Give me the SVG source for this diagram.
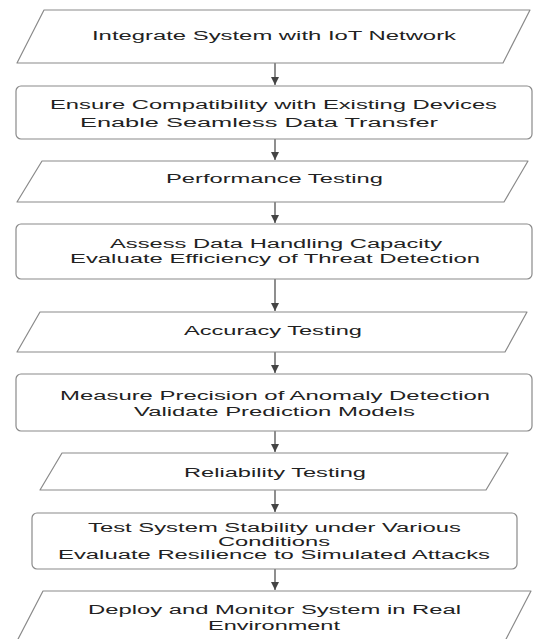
<svg xmlns="http://www.w3.org/2000/svg" width="534" height="639" viewBox="0 0 534 639">
<style>
.n{fill:#fff;stroke:#8a8a8a;stroke-width:1.2;stroke-linejoin:round}
.t{font-family:"Liberation Sans",Arial,sans-serif;font-size:12px;fill:#222}
.c{stroke:#444;stroke-width:1.2;fill:none}
</style>
<defs>
<marker id="ah" markerUnits="userSpaceOnUse" markerWidth="9" markerHeight="8" refX="8" refY="4" orient="auto">
<path d="M0,0 L8,4 L0,8 z" fill="#444"/>
</marker>
</defs>
<rect width="534" height="639" fill="#fff"/>
<g id="connectors">
<line class="c" x1="275" y1="63" x2="275" y2="85" marker-end="url(#ah)"/>
<line class="c" x1="275" y1="139" x2="275" y2="160" marker-end="url(#ah)"/>
<line class="c" x1="275" y1="202" x2="275" y2="223" marker-end="url(#ah)"/>
<line class="c" x1="275" y1="279" x2="275" y2="311" marker-end="url(#ah)"/>
<line class="c" x1="275" y1="352" x2="275" y2="373" marker-end="url(#ah)"/>
<line class="c" x1="275" y1="431" x2="275" y2="452" marker-end="url(#ah)"/>
<line class="c" x1="275" y1="490" x2="275" y2="512" marker-end="url(#ah)"/>
<line class="c" x1="275" y1="569" x2="275" y2="590" marker-end="url(#ah)"/>
</g>
<g id="n1">
<polygon class="n" points="44,10 530,10 503,63 17,63"/>
<text class="t" x="92" y="40" textLength="364" lengthAdjust="spacingAndGlyphs">Integrate System with IoT Network</text>
</g>
<g id="n2">
<rect class="n" x="16" y="86" width="516" height="53" rx="5"/>
<text class="t" x="50" y="109" textLength="447" lengthAdjust="spacingAndGlyphs">Ensure Compatibility with Existing Devices</text>
<text class="t" x="80" y="127" textLength="358" lengthAdjust="spacingAndGlyphs">Enable Seamless Data Transfer</text>
</g>
<g id="n3">
<polygon class="n" points="42,161 528,161 504,202 17,202"/>
<text class="t" x="166" y="183" textLength="217" lengthAdjust="spacingAndGlyphs">Performance Testing</text>
</g>
<g id="n4">
<rect class="n" x="16" y="224" width="516" height="55" rx="5"/>
<text class="t" x="110" y="247.5" textLength="332" lengthAdjust="spacingAndGlyphs">Assess Data Handling Capacity</text>
<text class="t" x="70" y="263" textLength="410" lengthAdjust="spacingAndGlyphs">Evaluate Efficiency of Threat Detection</text>
</g>
<g id="n5">
<polygon class="n" points="40,312 527,312 505,352 17,352"/>
<text class="t" x="184" y="334.5" textLength="178" lengthAdjust="spacingAndGlyphs">Accuracy Testing</text>
</g>
<g id="n6">
<rect class="n" x="16" y="374" width="516" height="57" rx="5"/>
<text class="t" x="60" y="399.5" textLength="430" lengthAdjust="spacingAndGlyphs">Measure Precision of Anomaly Detection</text>
<text class="t" x="134" y="415.5" textLength="281" lengthAdjust="spacingAndGlyphs">Validate Prediction Models</text>
</g>
<g id="n7">
<polygon class="n" points="62,453 508,453 486,490 40,490"/>
<text class="t" x="184" y="476.5" textLength="182" lengthAdjust="spacingAndGlyphs">Reliability Testing</text>
</g>
<g id="n8">
<rect class="n" x="32" y="513" width="485" height="56" rx="5"/>
<text class="t" x="88" y="532" textLength="373" lengthAdjust="spacingAndGlyphs">Test System Stability under Various</text>
<text class="t" x="218" y="545.5" textLength="112" lengthAdjust="spacingAndGlyphs">Conditions</text>
<text class="t" x="58" y="559" textLength="432" lengthAdjust="spacingAndGlyphs">Evaluate Resilience to Simulated Attacks</text>
</g>
<g id="n9">
<polygon class="n" points="43,591 531,591 504,643 16,643"/>
<text class="t" x="88" y="614" textLength="373" lengthAdjust="spacingAndGlyphs">Deploy and Monitor System in Real</text>
<text class="t" x="208" y="630" textLength="132" lengthAdjust="spacingAndGlyphs">Environment</text>
</g>
</svg>
